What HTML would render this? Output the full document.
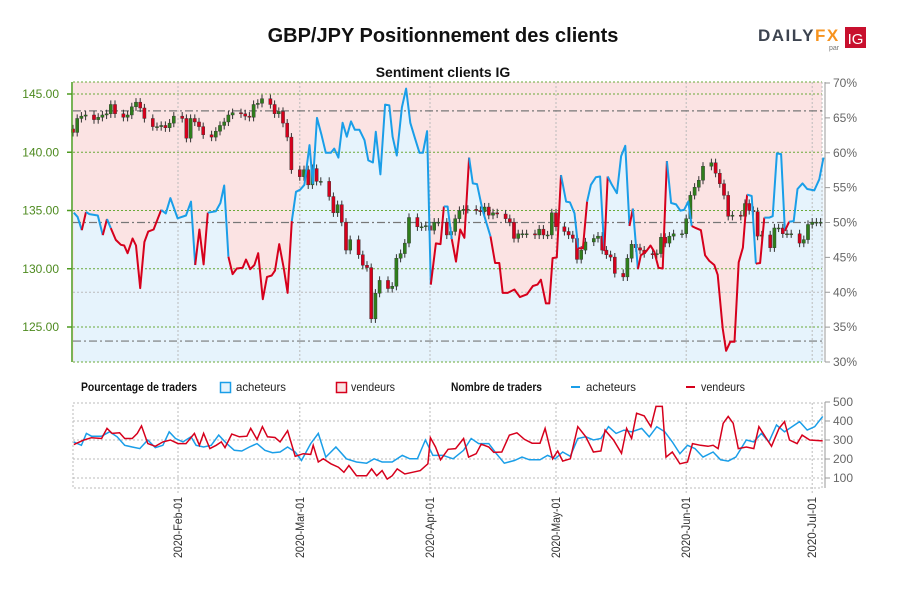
<!DOCTYPE html>
<html><head><meta charset="utf-8"><style>
body{margin:0;background:#fff;}
svg{font-family:"Liberation Sans Narrow","Liberation Sans",sans-serif;}
</style></head><body>
<svg width="900" height="600" viewBox="0 0 900 600" xmlns="http://www.w3.org/2000/svg">
<text x="443" y="42" text-anchor="middle" font-family="Liberation Sans, sans-serif" font-weight="bold" font-size="20" fill="#111">GBP/JPY Positionnement des clients</text>
<g>
<text x="758" y="41" font-family="Liberation Sans, sans-serif" font-weight="bold" font-size="17" letter-spacing="1.5" fill="#3d4450">DAILY<tspan fill="#f7931e">FX</tspan></text>
<text x="829" y="50" font-family="Liberation Sans, sans-serif" font-size="7" fill="#777">par</text>
<rect x="845" y="27" width="21" height="21" fill="#c8102e"/>
<text x="855.5" y="44" text-anchor="middle" font-family="Liberation Sans, sans-serif" font-size="15" fill="#fff">IG</text>
</g>
<text x="443" y="77" text-anchor="middle" font-family="Liberation Sans, sans-serif" font-weight="bold" font-size="14" fill="#111">Sentiment clients IG</text>
<g id="main"></g>
<g id="legend">
<text x="81" y="391" font-weight="bold" font-size="12" fill="#111" textLength="116" lengthAdjust="spacingAndGlyphs">Pourcentage de traders</text>
<rect x="220.5" y="382.5" width="10" height="10" fill="#e6f3fc" stroke="#1a9ee8" stroke-width="1.5"/>
<text x="236" y="391" font-size="12" fill="#222" textLength="50" lengthAdjust="spacingAndGlyphs">acheteurs</text>
<rect x="336.5" y="382.5" width="10" height="10" fill="#fbe3e3" stroke="#d6001c" stroke-width="1.5"/>
<text x="351" y="391" font-size="12" fill="#222" textLength="44" lengthAdjust="spacingAndGlyphs">vendeurs</text>
<text x="451" y="391" font-weight="bold" font-size="12" fill="#111" textLength="91" lengthAdjust="spacingAndGlyphs">Nombre de traders</text>
<line x1="571" y1="387" x2="580" y2="387" stroke="#1a9ee8" stroke-width="2"/>
<text x="586" y="391" font-size="12" fill="#222" textLength="50" lengthAdjust="spacingAndGlyphs">acheteurs</text>
<line x1="686" y1="387" x2="695" y2="387" stroke="#d6001c" stroke-width="2"/>
<text x="701" y="391" font-size="12" fill="#222" textLength="44" lengthAdjust="spacingAndGlyphs">vendeurs</text>
</g>
<g id="bottom"></g>
</svg>
<script>
const pctDays=[0.2,1.1,2.1,3.1,3.9,5.9,7.1,8.1,9.0,10.2,11.4,12.2,13.0,14.2,15.0,16.0,17.0,17.9,19.2,21.0,22.1,23.2,24.9,26.9,28.1,29.1,30.1,31.1,32.1,34.0,35.1,36.0,37.0,38.0,39.0,40.4,41.2,42.2,43.2,44.1,45.2,46.2,47.3,48.1,49.1,50.2,51.1,52.1,53.1,54.1,55.1,56.3,57.1,58.1,59.2,60.2,61.4,62.2,63.2,64.2,65.2,66.2,67.1,68.2,69.4,70.3,71.4,72.1,73.2,74.3,75.3,76.1,77.1,78.3,79.3,80.3,81.4,82.5,83.3,84.3,85.2,86.4,87.5,88.3,89.2,90.2,91.2,92.2,93.2,94.3,95.2,96.2,97.5,99.4,100.5,101.5,102.3,103.5,105.1,106.4,108.1,109.5,110.6,111.4,112.6,113.4,114.2,115.2,116.2,117.4,118.3,119.4,120.3,121.4,122.4,123.3,124.5,125.5,126.5,127.3,128.3,129.5,130.5,131.5,132.5,133.3,134.5,135.2,136.4,137.5,138.4,139.4,140.4,141.4,142.4,143.6,144.6,145.5,146.5,147.3,148.3,149.5,150.5,151.5,152.7,153.5,154.7,155.5,156.5,157.5,158.5,159.5,160.5,161.6,162.6,163.6,164.6,165.8,166.6,167.6,168.6,169.5,170.5,171.6,172.5,173.7,174.8,176.5,177.7,178.7];
const pctVals=[51.4,50.8,48.9,51.5,51.2,51,48.2,50.5,49.2,47.5,46.8,46.7,45.6,47.7,46.7,40.6,47.2,48.7,49,51.8,51.3,53.5,50.6,51,53,43.9,49,44,51.4,51.6,52.8,55.3,45.1,42.6,43.4,43.5,44.7,43.3,43.9,45.6,39,42.2,42.4,43.1,46.9,43.4,39.9,50.2,54.4,54.7,55.4,61.1,55.6,65,62.5,60,60,60.6,59.3,64.3,62.3,64.5,63.3,63.3,61.8,58.9,58.6,63,56.9,66.9,66.8,62.3,59.6,66.5,69.2,64.3,62.1,60,60,63.1,41.1,47,46.9,52.3,52.3,47.6,44.4,49,47.8,59.3,55.6,55.5,51.8,48,44.2,44.2,39.9,39.9,40.4,39.3,39.7,40.9,41.1,41.8,38.4,38.4,44.9,45,56.8,53,52.9,51.3,46.3,46.3,53,55.4,56.5,56.6,45.9,56.6,55.4,54.2,59.5,61,49.5,52,43.3,45.3,45.8,46.7,45.8,43.5,43.4,58.8,52.8,52.6,51.7,51.8,53,49.5,49.2,48.9,45.3,44.5,43.9,42.5,34.8,31.6,32.9,32.9,44.3,46.4,54,53.8,44.1,44.2,50.7,50.7,50.9,59.9,59.8,48.8,50.1,50.2,54.8,55.6,54.8,54.6,56.2,59.3];
const candleDays=[0,1,2,3,5,6,7,8,9,10,12,13,14,15,16,17,19,20,21,22,23,24,26,27,28,29,30,31,33,34,35,36,37,38,40,41,42,43,44,45,47,48,49,50,51,52,54,55,56,57,58,59,61,62,63,64,65,66,68,69,70,71,72,73,75,76,77,78,79,80,82,83,84,85,86,87,89,90,91,92,93,94,96,97,98,99,100,101,103,104,105,106,107,108,110,111,112,113,114,115,117,118,119,120,121,122,124,125,126,127,128,129,131,132,133,134,135,136,138,139,140,141,142,143,145,146,147,148,149,150,152,153,154,155,156,157,159,160,161,162,163,164,166,167,168,169,170,171,173,174,175,176,177,178];
const candleClose=[141.7,142.9,143.1,143.2,142.8,143.0,143.2,143.3,144.1,143.3,143.0,143.2,143.9,144.3,143.8,142.9,142.2,142.2,142.3,142.1,142.5,143.1,142.9,141.2,142.9,142.6,142.2,141.5,141.3,141.8,142.3,142.6,143.2,143.4,143.3,143.1,143.0,144.1,144.2,144.6,144.1,143.3,143.5,142.5,141.3,138.5,137.9,138.5,137.2,138.6,137.5,137.5,136.2,134.8,135.5,134.0,131.6,132.5,131.2,130.3,130.1,125.7,127.9,129.0,128.3,128.5,130.9,131.3,132.2,134.4,133.6,133.6,133.7,133.3,134.0,134.0,132.9,133.2,134.3,135.0,135.1,135.1,135.0,134.9,135.3,134.6,134.8,134.7,134.3,134.0,132.6,133.0,133.0,133.0,132.9,133.4,132.9,132.9,134.8,133.6,133.2,132.9,132.6,130.8,131.6,132.3,132.6,132.8,131.6,131.2,131.0,129.6,129.3,130.9,132.1,131.8,131.6,131.3,131.2,131.3,132.7,132.2,132.8,133.0,133.0,134.3,136.3,137.0,137.6,138.8,139.1,138.2,137.3,136.3,134.5,134.6,134.5,135.6,135.0,134.9,132.8,132.9,131.8,133.5,133.5,133.0,133.0,133.0,132.2,132.5,133.8,134.0,134.0,134.0];
const buyDays=[0.2,2.0,3.2,4.4,6.8,8.7,10.5,12.3,14.1,15.9,17.8,19.6,21.4,22.9,24.4,26.2,28.1,29.3,31.1,32.9,34.7,36.6,38.4,40.2,42.0,43.8,45.7,47.5,49.3,51.1,52.9,54.4,56.6,58.4,60.2,62.6,65.1,67.5,69.9,71.7,73.6,76.0,78.4,80.2,82.0,83.9,85.7,88.1,90.5,93.0,94.8,96.6,99.0,100.8,102.7,105.1,106.9,108.7,111.2,113.0,114.8,116.6,118.4,120.2,122.1,123.9,125.7,127.5,129.3,131.2,133.0,135.4,137.2,139.0,140.9,142.7,144.5,146.3,148.1,150.0,152.4,154.2,156.0,157.8,160.3,162.1,163.9,165.7,167.5,169.4,171.2,173.0,174.8,176.6,178.5];
const buyVals=[290,272,335,320,320,343,317,272,263,255,300,260,272,343,308,290,317,272,263,272,326,281,246,242,263,281,246,233,237,263,237,192,281,335,210,263,201,184,178,201,184,184,219,201,201,300,219,219,201,246,308,281,281,228,178,192,210,196,196,219,201,237,214,308,317,300,308,370,335,352,343,361,317,370,343,290,228,272,255,210,237,196,189,210,300,290,335,290,379,343,370,397,352,370,424];
const sellDays=[0.2,2.6,4.4,6.8,8.1,9.3,11.1,12.3,14.1,15.3,16.3,17.8,19.6,21.4,23.2,25.0,26.9,28.9,30.1,31.1,32.6,34.1,35.3,36.2,37.8,39.6,41.4,42.3,43.8,45.1,46.3,48.1,49.3,51.1,52.9,54.8,56.6,57.2,58.4,59.6,61.4,63.2,64.5,65.7,67.5,69.9,71.1,72.3,73.6,74.8,76.0,77.2,79.0,80.8,82.7,84.5,85.1,86.3,87.5,89.3,91.1,93.0,94.2,96.0,97.2,99.0,100.2,102.1,103.9,105.7,107.5,109.3,111.2,112.4,114.2,115.4,116.6,118.4,120.2,122.1,123.9,125.7,126.7,128.7,130.6,131.8,133.0,134.2,136.0,137.6,138.8,140.3,141.2,142.7,144.5,146.3,147.5,149.4,151.2,152.4,153.6,154.8,156.0,157.2,158.4,160.3,162.1,163.3,165.1,166.3,168.1,169.4,170.6,172.4,173.6,175.4,178.5];
const sellVals=[276,300,312,308,361,335,338,308,308,335,374,281,267,290,300,281,281,335,272,335,255,272,290,260,331,317,320,361,303,370,317,313,290,349,214,228,224,272,184,201,175,157,130,166,112,112,148,112,139,94,112,148,121,130,139,175,312,263,196,251,255,308,210,228,278,263,235,237,326,338,303,283,283,361,201,242,189,201,370,317,237,242,352,300,230,361,308,441,427,370,477,477,210,237,175,184,281,272,267,272,255,388,424,388,255,263,255,370,308,267,361,397,300,281,326,300,295];
const priceTicks=[145,140,135,130,125];
const priceTickLabels=["145.00","140.00","135.00","130.00","125.00"];
const pctTicks=[70,65,60,55,50,45,40,35,30];
const pctTickLabels=["70%","65%","60%","55%","50%","45%","40%","35%","30%"];
const countTicks=[500,400,300,200,100];
const monthDays=[25,54,85,115,146,176];
const monthLabels=["2020-Feb-01","2020-Mar-01","2020-Apr-01","2020-May-01","2020-Jun-01","2020-Jul-01"];
const refPct=[66,50,33];

const NS="http://www.w3.org/2000/svg";
const L=73,R=822,T=82,B=362,BT=403,BB=488;
const xS=d=>L+d*4.2;
const yP=p=>94+(145-p)*11.65;
const yPct=v=>83+(70-v)*6.975;
const yC=c=>402+(500-c)*0.19;
function mk(tag,attrs,parent){const e=document.createElementNS(NS,tag);for(const k in attrs)e.setAttribute(k,attrs[k]);parent.appendChild(e);return e;}
const main=document.getElementById('main'),bot=document.getElementById('bottom');

let bg=mk('rect',{x:L,y:T,width:R-L,height:B-T,fill:'#fbe3e3'},main);


let pts=pctDays.map((d,i)=>xS(d).toFixed(1)+','+yPct(pctVals[i]).toFixed(1));
let fill=mk('polygon',{points:xS(pctDays[0])+','+B+' '+pts.join(' ')+' '+xS(pctDays[pctDays.length-1])+','+B,fill:'#e6f3fc'},main);



priceTicks.forEach(p=>{let g=mk('line',{x1:L,x2:R,y1:yP(p),y2:yP(p),stroke:'#6aaa3a','stroke-width':1,'stroke-dasharray':'2,2'},main);

});
mk('line',{x1:L,x2:R,y1:T,y2:T,stroke:'#6aaa3a','stroke-dasharray':'2,2'},main);
mk('line',{x1:L,x2:R,y1:B,y2:B,stroke:'#6aaa3a','stroke-dasharray':'2,2'},main);
mk('line',{x1:L,x2:R,y1:yPct(40),y2:yPct(40),stroke:'#bbb','stroke-dasharray':'2,2'},main);
monthDays.forEach(d=>{let g=mk('line',{x1:xS(d),x2:xS(d),y1:T,y2:B,stroke:'#bbb','stroke-dasharray':'2,2'},main);

});
mk('line',{x1:R,x2:R,y1:T,y2:B,stroke:'#bbb','stroke-dasharray':'2,2'},main);
refPct.forEach(v=>{let g=mk('line',{x1:L,x2:R,y1:yPct(v),y2:yPct(v),stroke:'#777','stroke-width':1.2,'stroke-dasharray':'8,3,2,3'},main);

});

const cg=mk('g',{},main);


candleDays.forEach((d,i)=>{
 const c=candleClose[i],o=i>0?candleClose[i-1]:c+0.3;
 const hi=Math.max(o,c)+0.35,lo=Math.min(o,c)-0.35,x=xS(d);
 const w=mk('line',{x1:x,x2:x,y1:yP(hi),y2:yP(lo),stroke:'#333','stroke-width':1},cg);
 
 
 const top=yP(Math.max(o,c)),h=Math.max(1,Math.abs(yP(o)-yP(c)));
 const b=mk('rect',{x:x-1.6,y:top,width:3.2,height:h,fill:c>=o?'#2f7d1c':'#d6001c',stroke:'#333','stroke-width':0.4},cg);
 
 
});

const lg=mk('g',{},main);


let seg=[pts[0]],col=pctVals[0]>=50;
for(let i=1;i<pctVals.length;i++){
 const c=pctVals[i-1]>=50;
 if(c!==col){mk('polyline',{points:seg.join(' '),fill:'none',stroke:col?'#1a9ee8':'#d6001c','stroke-width':2,'stroke-linejoin':'round'},lg);seg=[pts[i-1]];col=c;}
 seg.push(pts[i]);
}
mk('polyline',{points:seg.join(' '),fill:'none',stroke:col?'#1a9ee8':'#d6001c','stroke-width':2,'stroke-linejoin':'round'},lg);

const la=mk('g',{},main);


mk('line',{x1:L-1,x2:L-1,y1:T,y2:B,stroke:'#4d9a1f','stroke-width':1.5},la);
priceTicks.forEach((p,i)=>{mk('line',{x1:L-6,x2:L-1,y1:yP(p),y2:yP(p),stroke:'#4d9a1f','stroke-width':1.5},la);
 const t=mk('text',{x:L-14,y:yP(p)+4,'text-anchor':'end','font-size':12,fill:'#4d8a1f'},la);t.textContent=priceTickLabels[i];});
const ra=mk('g',{},main);


mk('line',{x1:R+3,x2:R+3,y1:T,y2:B,stroke:'#999'},ra);
pctTicks.forEach((v,i)=>{mk('line',{x1:R+3,x2:R+8,y1:yPct(v),y2:yPct(v),stroke:'#999'},ra);
 const t=mk('text',{x:R+11,y:yPct(v)+4,'font-size':12,fill:'#666'},ra);t.textContent=pctTickLabels[i];});

mk('rect',{x:L,y:BT,width:R-L,height:BB-BT,fill:'none',stroke:'#bbb','stroke-dasharray':'2,2'},bot);
countTicks.slice(1).forEach(c=>{mk('line',{x1:L,x2:R,y1:yC(c),y2:yC(c),stroke:'#bbb','stroke-dasharray':'2,2'},bot);});
monthDays.forEach((d,i)=>{let g=mk('line',{x1:xS(d),x2:xS(d),y1:BT,y2:BB+5,stroke:'#bbb','stroke-dasharray':'2,2'},bot);
 
 
 const t=mk('text',{x:0,y:0,transform:'translate('+(xS(d)+4)+','+(BB+9)+') rotate(-90)','text-anchor':'end','font-size':12,fill:'#333',textLength:61,lengthAdjust:'spacingAndGlyphs'},bot);
 
 
 t.textContent=monthLabels[i];});
const ca=mk('g',{},bot);


mk('line',{x1:R+3,x2:R+3,y1:BT-1,y2:BB,stroke:'#999'},ca);
countTicks.forEach(c=>{mk('line',{x1:R+3,x2:R+8,y1:yC(c),y2:yC(c),stroke:'#999'},ca);
 const t=mk('text',{x:R+11,y:yC(c)+4,'font-size':12,fill:'#666'},ca);t.textContent=String(c);});
const bl=mk('polyline',{points:buyDays.map((d,i)=>xS(d).toFixed(1)+','+yC(buyVals[i]).toFixed(1)).join(' '),fill:'none',stroke:'#1a9ee8','stroke-width':1.5},bot);


const sl=mk('polyline',{points:sellDays.map((d,i)=>xS(d).toFixed(1)+','+yC(sellVals[i]).toFixed(1)).join(' '),fill:'none',stroke:'#d6001c','stroke-width':1.5},bot);


</script>
</body></html>
